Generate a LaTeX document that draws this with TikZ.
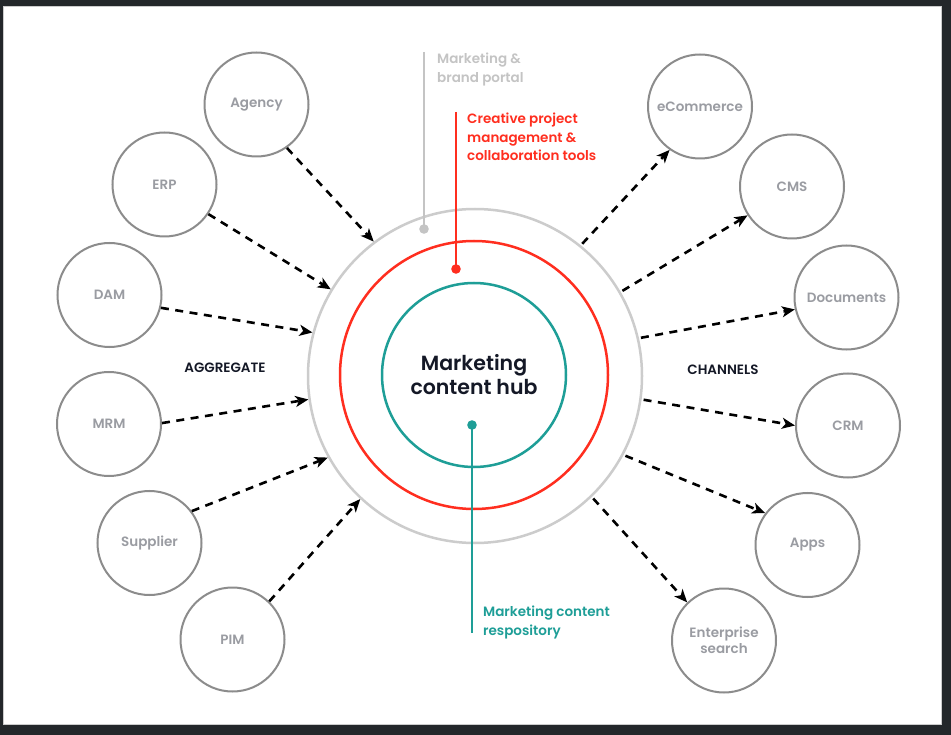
\documentclass[tikz,border=0pt]{standalone}
\usepackage{fontspec}
\setmainfont{Poppins}[BoldFont={Poppins SemiBold}]
\usetikzlibrary{arrows.meta}
\definecolor{framebg}{HTML}{23272A}
\definecolor{satgray}{HTML}{8C8C8C}
\definecolor{labelgray}{HTML}{9A9CA2}
\definecolor{ringgray}{HTML}{CCCCCC}
\definecolor{portalgray}{HTML}{C4C4C4}
\definecolor{ringred}{HTML}{FF2E1F}
\definecolor{ringteal}{HTML}{1E9E97}
\definecolor{navy}{HTML}{141826}
\begin{document}
\begin{tikzpicture}[x=1pt,y=-1pt,
  sat/.style={circle, draw=satgray, line width=2pt, minimum size=104pt, inner sep=0pt,
    font=\bfseries\fontsize{13.5}{16}\selectfont, text=labelgray, align=center},
  flow/.style={line width=2.6pt, dash pattern=on 8pt off 6.5pt, -{Stealth[length=13pt,width=11pt,inset=3.5pt]}},
  ring/.style={circle, line width=2.5pt, inner sep=0pt},
  side/.style={font=\bfseries\fontsize{13.5}{16}\selectfont, text=navy},
  note/.style={font=\bfseries\fontsize{13.5}{18.6}\selectfont, align=left, anchor=north west, inner sep=0pt},
  stem/.style={line width=2.5pt}]
\useasboundingbox (0,0) rectangle (951,735);
\fill[framebg] (0,0) rectangle (951,735);
\fill[white] (3,6) rectangle (942,725);
\draw[gray!40, line width=0.8pt] (3.4,6.4) rectangle (941.6,724.6);

% central rings
\node[ring, draw=ringgray, minimum size=334pt] (outer) at (475,376) {};
\node[ring, draw=ringred, minimum size=268pt] (redring) at (474,375) {};
\node[ring, draw=ringteal, minimum size=184pt, align=center,
  font=\bfseries\fontsize{20.5}{24}\selectfont, text=navy] (hub) at (474,375) {Marketing\\content hub};

% stems with dots
\coordinate (portaltop) at (424,52);
\coordinate (portaldot) at (424,229);
\coordinate (redtop) at (456,112);
\coordinate (reddot) at (456,269);
\coordinate (tealdot) at (472,425);
\coordinate (tealbot) at (472,633);
\draw[stem, portalgray] (portaltop) -- (portaldot);
\fill[portalgray] (portaldot) circle (4.8pt);
\draw[stem, ringred] (redtop) -- (reddot);
\fill[ringred] (reddot) circle (4.8pt);
\draw[stem, ringteal] (tealdot) -- (tealbot);
\fill[ringteal] (tealdot) circle (4.8pt);

\node[note, text=portalgray] (portal) at (437,53) {Marketing \&\\brand portal};
\node[note, text=ringred] (creative) at (467,113) {Creative project\\management \&\\collaboration tools};
\node[note, text=ringteal] (repo) at (483,606) {Marketing content\\respository};

% side labels
\node[side] (aggregate) at (225,368) {AGGREGATE};
\node[side] (channels) at (723,370) {CHANNELS};

% satellites left
\node[sat] (agency) at (256.5,104.5) {Agency};
\node[sat] (erp) at (164.5,184.5) {ERP};
\node[sat] (dam) at (109.5,295) {DAM};
\node[sat] (mrm) at (109,424) {MRM};
\node[sat] (supplier) at (149.5,543) {Supplier};
\node[sat] (pim) at (232.5,639.5) {PIM};
% satellites right
\node[sat] (ecommerce) at (700,106.5) {eCommerce};
\node[sat] (cms) at (792,186.5) {CMS};
\node[sat] (documents) at (846.5,297.5) {Documents};
\node[sat] (crm) at (848,425.5) {CRM};
\node[sat] (apps) at (807.5,545) {Apps};
\node[sat] (search) at (724,640.5) {Enterprise\\search};

% aggregate arrows
\draw[flow] (agency.-55) -- (outer.127);
\draw[flow] (erp.-34) -- (outer.149);
\draw[flow] (dam.-14) -- (outer.165);
\draw[flow] (mrm.1) -- (outer.188);
\draw[flow] (supplier.37) -- (outer.209);
\draw[flow] (pim.46) -- (outer.227);
% channel arrows
\draw[flow, shorten <=2pt] (outer.51) -- (ecommerce.235);
\draw[flow, shorten <=2pt] (outer.30) -- (cms.213);
\draw[flow, shorten <=2pt] (outer.13) -- (documents.193);
\draw[flow, shorten <=2pt] (outer.-8.5) -- (crm.180);
\draw[flow, shorten <=2pt] (outer.-28) -- (apps.143);
\draw[flow, shorten <=2pt] (outer.-46) -- (search.134);
\end{tikzpicture}
\end{document}
